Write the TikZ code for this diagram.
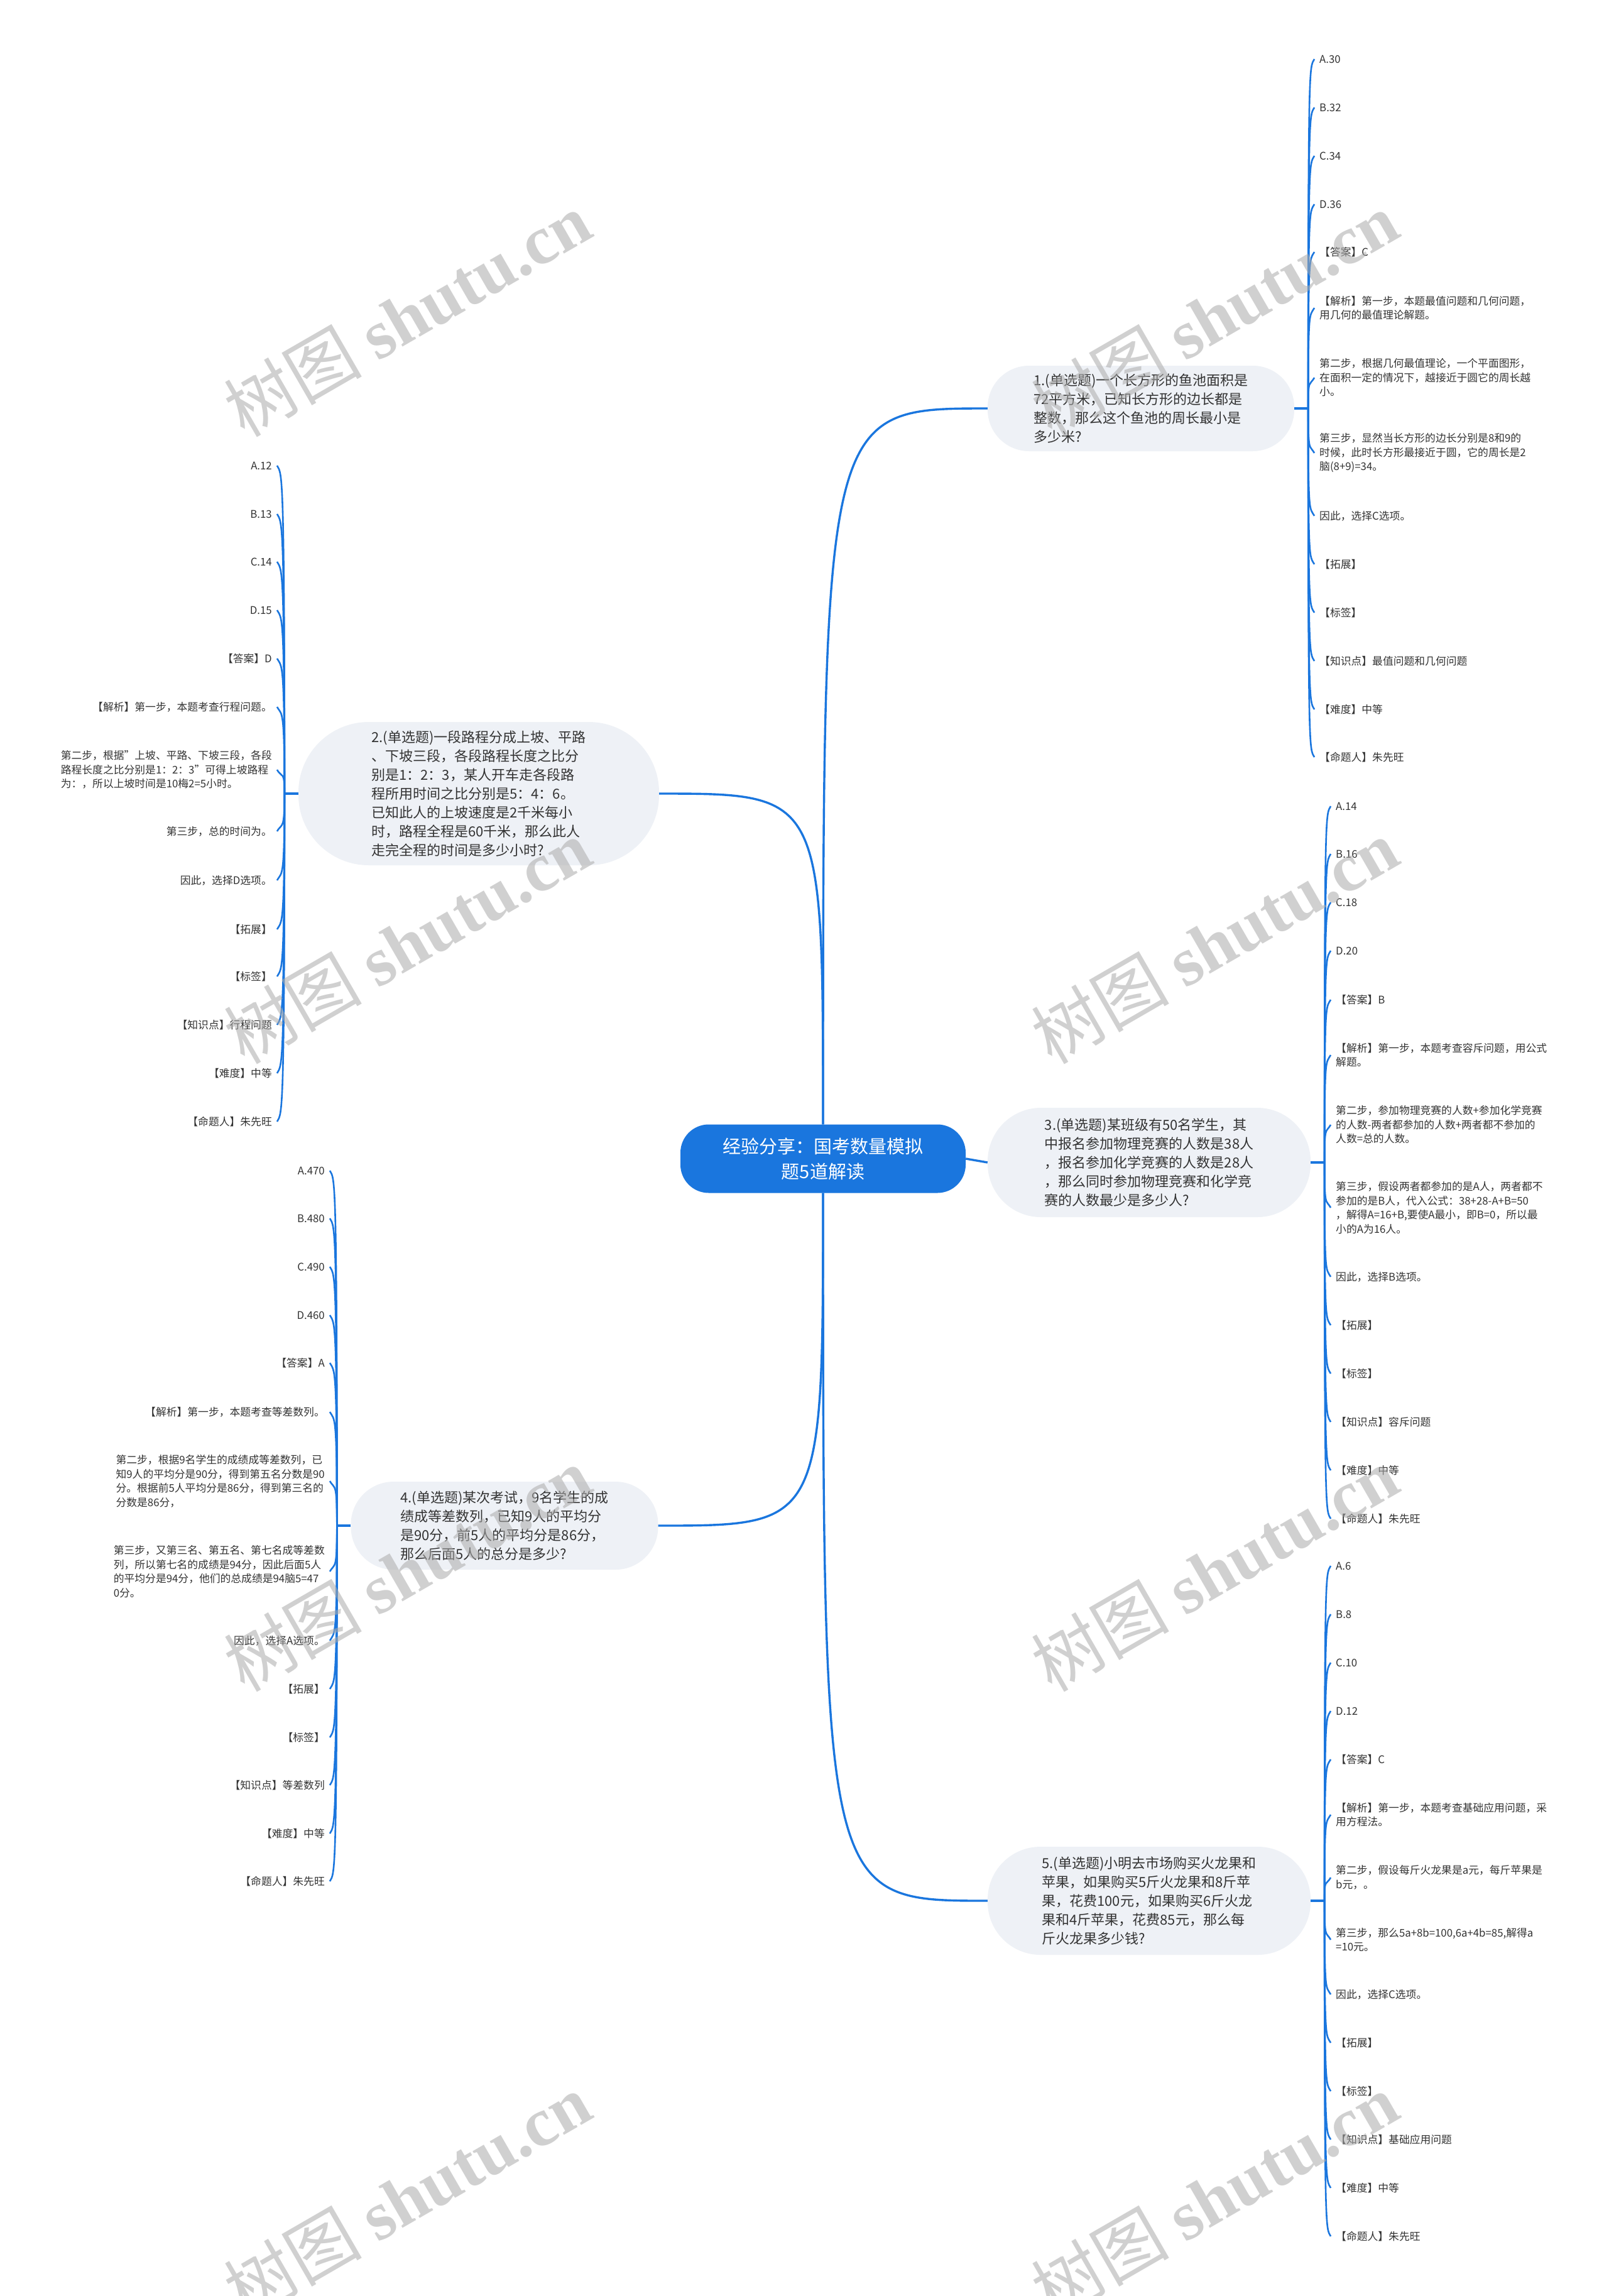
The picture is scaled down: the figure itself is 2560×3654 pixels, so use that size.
\documentclass[tikz,border=0pt]{standalone}
\usepackage{fontspec}
\setmainfont{Noto Sans CJK SC}
\newfontfamily\wmlatin{Liberation Serif}
\usetikzlibrary{calc}
\definecolor{mblue}{HTML}{1A76DE}
\definecolor{pillfill}{HTML}{EEF1F6}
\definecolor{txt}{HTML}{333333}
\begin{document}
\begin{tikzpicture}[x=1pt,y=-1pt,
  mainline/.style={draw=mblue,line width=3.4pt},
  leafline/.style={draw=mblue,line width=2.6pt},
  branch/.style={fill=pillfill,text=txt,align=left,inner sep=0pt,font=\fontsize{22}{30}\selectfont},
  centernode/.style={fill=mblue,text=white,align=center,inner sep=0pt,rounded corners=45pt,minimum width=454pt,minimum height=109pt,font=\fontsize{29}{40}\selectfont},
  leafR/.style={anchor=west,inner xsep=8pt,inner ysep=2pt,align=left,text=txt,font=\fontsize{16.8}{22.5}\selectfont},
  leafL/.style={leafR,anchor=east},
  wmark/.style={rotate=30,text=black!33,text opacity=0.55,inner sep=0pt,font=\fontsize{110}{110}\selectfont}
]
\useasboundingbox (0,0) rectangle (2560,3654);
\fill[white] (0,0) rectangle (2560,3654);

% centre and branch nodes
\node[centernode] (c) at (1310,1844) {经验分享：国考数量模拟\\题5道解读};
\node[branch,minimum width=488pt,minimum height=136pt,rounded corners=66pt] (b1) at (1816,650)
  {1.(单选题)一个长方形的鱼池面积是\\72平方米，已知长方形的边长都是\\整数，那么这个鱼池的周长最小是\\多少米?};
\node[branch,minimum width=574pt,minimum height=228pt,rounded corners=112pt] (b2) at (762,1263)
  {2.(单选题)一段路程分成上坡、平路\\、下坡三段，各段路程长度之比分\\别是1：2：3，某人开车走各段路\\程所用时间之比分别是5：4：6。\\已知此人的上坡速度是2千米每小\\时，路程全程是60千米，那么此人\\走完全程的时间是多少小时?};
\node[branch,minimum width=514pt,minimum height=174pt,rounded corners=85pt] (b3) at (1829,1850)
  {3.(单选题)某班级有50名学生，其\\中报名参加物理竞赛的人数是38人\\，报名参加化学竞赛的人数是28人\\，那么同时参加物理竞赛和化学竞\\赛的人数最少是多少人?};
\node[branch,minimum width=489pt,minimum height=140pt,rounded corners=68pt] (b4) at (803,2428)
  {4.(单选题)某次考试，9名学生的成\\绩成等差数列，已知9人的平均分\\是90分，前5人的平均分是86分，\\那么后面5人的总分是多少?};
\node[branch,minimum width=514pt,minimum height=172pt,rounded corners=84pt] (b5) at (1829,3025)
  {5.(单选题)小明去市场购买火龙果和\\苹果，如果购买5斤火龙果和8斤苹\\果，花费100元，如果购买6斤火龙\\果和4斤苹果，花费85元，那么每\\斤火龙果多少钱?};

\coordinate (j1) at ($(b1.east)+(22,0)$);
\coordinate (j2) at ($(b2.west)+(-22,0)$);
\coordinate (j3) at ($(b3.east)+(22,0)$);
\coordinate (j4) at ($(b4.west)+(-22,0)$);
\coordinate (j5) at ($(b5.east)+(22,0)$);

% branch 1 leaves
\node[leafR] (l1a) at (2092,94) {A.30};
\node[leafR] (l1b) at (2092,171) {B.32};
\node[leafR] (l1c) at (2092,248) {C.34};
\node[leafR] (l1d) at (2092,325) {D.36};
\node[leafR] (l1e) at (2092,401) {【答案】C};
\node[leafR] (l1f) at (2092,490) {【解析】第一步，本题最值问题和几何问题，\\用几何的最值理论解题。};
\node[leafR] (l1g) at (2092,601) {第二步，根据几何最值理论，一个平面图形，\\在面积一定的情况下，越接近于圆它的周长越\\小。};
\node[leafR] (l1h) at (2092,721) {第三步，显然当长方形的边长分别是8和9的\\时候，此时长方形最接近于圆，它的周长是2\\脑(8+9)=34。};
\node[leafR] (l1i) at (2092,821) {因此，选择C选项。};
\node[leafR] (l1j) at (2092,898) {【拓展】};
\node[leafR] (l1k) at (2092,975) {【标签】};
\node[leafR] (l1l) at (2092,1052) {【知识点】最值问题和几何问题};
\node[leafR] (l1m) at (2092,1129) {【难度】中等};
\node[leafR] (l1n) at (2092,1205) {【命题人】朱先旺};

% branch 2 leaves
\node[leafL] (l2a) at (441,741) {A.12};
\node[leafL] (l2b) at (441,818) {B.13};
\node[leafL] (l2c) at (441,894) {C.14};
\node[leafL] (l2d) at (441,971) {D.15};
\node[leafL] (l2e) at (441,1048) {【答案】D};
\node[leafL] (l2f) at (441,1125) {【解析】第一步，本题考查行程问题。};
\node[leafL] (l2g) at (441,1225) {第二步，根据"上坡、平路、下坡三段，各段\\路程长度之比分别是1：2：3"可得上坡路程\\为：，所以上坡时间是10梅2=5小时。};
\node[leafL] (l2h) at (441,1323) {第三步，总的时间为。};
\node[leafL] (l2i) at (441,1401) {因此，选择D选项。};
\node[leafL] (l2j) at (441,1479) {【拓展】};
\node[leafL] (l2k) at (441,1554) {【标签】};
\node[leafL] (l2l) at (441,1631) {【知识点】行程问题};
\node[leafL] (l2m) at (441,1708) {【难度】中等};
\node[leafL] (l2n) at (441,1785) {【命题人】朱先旺};

% branch 3 leaves
\node[leafR] (l3a) at (2118,1283) {A.14};
\node[leafR] (l3b) at (2118,1359) {B.16};
\node[leafR] (l3c) at (2118,1436) {C.18};
\node[leafR] (l3d) at (2118,1513) {D.20};
\node[leafR] (l3e) at (2118,1591) {【答案】B};
\node[leafR] (l3f) at (2118,1679) {【解析】第一步，本题考查容斥问题，用公式\\解题。};
\node[leafR] (l3g) at (2118,1790) {第二步，参加物理竞赛的人数+参加化学竞赛\\的人数-两者都参加的人数+两者都不参加的\\人数=总的人数。};
\node[leafR] (l3h) at (2118,1922) {第三步，假设两者都参加的是A人，两者都不\\参加的是B人，代入公式：38+28-A+B=50\\，解得A=16+B,要使A最小，即B=0，所以最\\小的A为16人。};
\node[leafR] (l3i) at (2118,2032) {因此，选择B选项。};
\node[leafR] (l3j) at (2118,2109) {【拓展】};
\node[leafR] (l3k) at (2118,2186) {【标签】};
\node[leafR] (l3l) at (2118,2263) {【知识点】容斥问题};
\node[leafR] (l3m) at (2118,2340) {【难度】中等};
\node[leafR] (l3n) at (2118,2417) {【命题人】朱先旺};

% branch 4 leaves
\node[leafL] (l4a) at (525,1863) {A.470};
\node[leafL] (l4b) at (525,1939) {B.480};
\node[leafL] (l4c) at (525,2016) {C.490};
\node[leafL] (l4d) at (525,2093) {D.460};
\node[leafL] (l4e) at (525,2169) {【答案】A};
\node[leafL] (l4f) at (525,2247) {【解析】第一步，本题考查等差数列。};
\node[leafL] (l4g) at (525,2357) {第二步，根据9名学生的成绩成等差数列，已\\知9人的平均分是90分，得到第五名分数是90\\分。根据前5人平均分是86分，得到第三名的\\分数是86分，};
\node[leafL] (l4h) at (525,2501) {第三步，又第三名、第五名、第七名成等差数\\列，所以第七名的成绩是94分，因此后面5人\\的平均分是94分，他们的总成绩是94脑5=47\\0分。};
\node[leafL] (l4i) at (525,2611) {因此，选择A选项。};
\node[leafL] (l4j) at (525,2688) {【拓展】};
\node[leafL] (l4k) at (525,2765) {【标签】};
\node[leafL] (l4l) at (525,2841) {【知识点】等差数列};
\node[leafL] (l4m) at (525,2918) {【难度】中等};
\node[leafL] (l4n) at (525,2994) {【命题人】朱先旺};

% branch 5 leaves
\node[leafR] (l5a) at (2118,2492) {A.6};
\node[leafR] (l5b) at (2118,2569) {B.8};
\node[leafR] (l5c) at (2118,2646) {C.10};
\node[leafR] (l5d) at (2118,2723) {D.12};
\node[leafR] (l5e) at (2118,2800) {【答案】C};
\node[leafR] (l5f) at (2118,2888) {【解析】第一步，本题考查基础应用问题，采\\用方程法。};
\node[leafR] (l5g) at (2118,2988) {第二步，假设每斤火龙果是a元，每斤苹果是\\b元，。};
\node[leafR] (l5h) at (2118,3087) {第三步，那么5a+8b=100,6a+4b=85,解得a\\=10元。};
\node[leafR] (l5i) at (2118,3174) {因此，选择C选项。};
\node[leafR] (l5j) at (2118,3251) {【拓展】};
\node[leafR] (l5k) at (2118,3328) {【标签】};
\node[leafR] (l5l) at (2118,3405) {【知识点】基础应用问题};
\node[leafR] (l5m) at (2118,3482) {【难度】中等};
\node[leafR] (l5n) at (2118,3559) {【命题人】朱先旺};

% main connectors
\draw[mainline] (c.north) .. controls (c.north |- b1.west) .. (b1.west);
\draw[mainline] (c.north) .. controls (c.north |- b2.east) .. (b2.east);
\draw[mainline] (c.east) -- (b3.west);
\draw[mainline] (c.south) .. controls (c.south |- b4.east) .. (b4.east);
\draw[mainline] (c.south) .. controls (c.south |- b5.west) .. (b5.west);
\draw[mainline] (b1.east) -- (j1);
\draw[mainline] (b2.west) -- (j2);
\draw[mainline] (b3.east) -- (j3);
\draw[mainline] (b4.west) -- (j4);
\draw[mainline] (b5.east) -- (j5);

% leaf connectors
\foreach \n/\s in {l1a/1,l1b/1,l1c/1,l1d/1,l1e/1,l1f/1,l1g/1,l1h/-1,l1i/-1,l1j/-1,l1k/-1,l1l/-1,l1m/-1,l1n/-1}
  \draw[leafline] (j1) .. controls (j1 |- \n.west) and ($(\n.west)+(-8,\s*14)$) .. (\n.west);
\foreach \n/\s in {l3a/1,l3b/1,l3c/1,l3d/1,l3e/1,l3f/1,l3g/1,l3h/-1,l3i/-1,l3j/-1,l3k/-1,l3l/-1,l3m/-1,l3n/-1}
  \draw[leafline] (j3) .. controls (j3 |- \n.west) and ($(\n.west)+(-8,\s*14)$) .. (\n.west);
\foreach \n/\s in {l5a/1,l5b/1,l5c/1,l5d/1,l5e/1,l5f/1,l5g/1,l5h/-1,l5i/-1,l5j/-1,l5k/-1,l5l/-1,l5m/-1,l5n/-1}
  \draw[leafline] (j5) .. controls (j5 |- \n.west) and ($(\n.west)+(-8,\s*14)$) .. (\n.west);
\foreach \n/\s in {l2a/1,l2b/1,l2c/1,l2d/1,l2e/1,l2f/1,l2g/1,l2h/-1,l2i/-1,l2j/-1,l2k/-1,l2l/-1,l2m/-1,l2n/-1}
  \draw[leafline] (j2) .. controls (j2 |- \n.east) and ($(\n.east)+(8,\s*14)$) .. (\n.east);
\foreach \n/\s in {l4a/1,l4b/1,l4c/1,l4d/1,l4e/1,l4f/1,l4g/1,l4h/-1,l4i/-1,l4j/-1,l4k/-1,l4l/-1,l4m/-1,l4n/-1}
  \draw[leafline] (j4) .. controls (j4 |- \n.east) and ($(\n.east)+(8,\s*14)$) .. (\n.east);

% watermarks
\node[wmark] (w1) at (648,500) {树图 {\wmlatin\bfseries shutu.cn}};
\node[wmark] (w2) at (1933,500) {树图 {\wmlatin\bfseries shutu.cn}};
\node[wmark] (w3) at (648,1498) {树图 {\wmlatin\bfseries shutu.cn}};
\node[wmark] (w4) at (1933,1498) {树图 {\wmlatin\bfseries shutu.cn}};
\node[wmark] (w5) at (648,2497) {树图 {\wmlatin\bfseries shutu.cn}};
\node[wmark] (w6) at (1933,2497) {树图 {\wmlatin\bfseries shutu.cn}};
\node[wmark] (w7) at (648,3494) {树图 {\wmlatin\bfseries shutu.cn}};
\node[wmark] (w8) at (1933,3494) {树图 {\wmlatin\bfseries shutu.cn}};
\end{tikzpicture}
\end{document}
